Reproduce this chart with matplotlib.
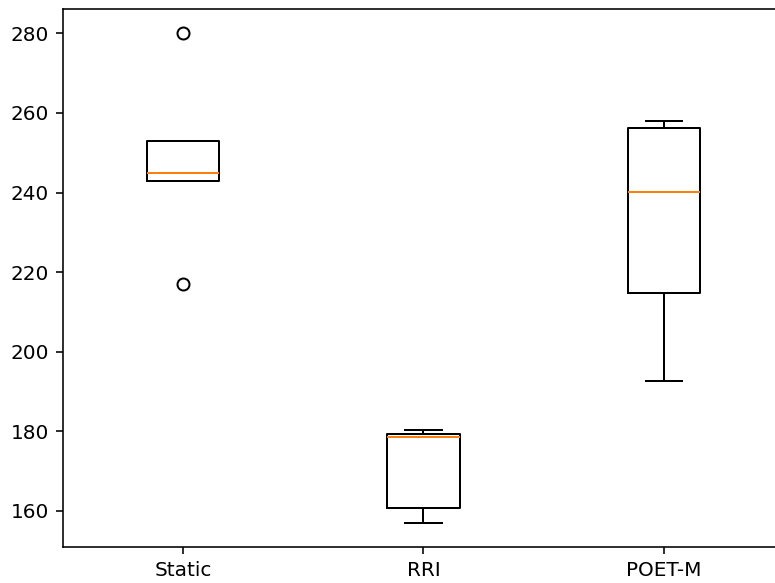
import matplotlib
matplotlib.use("Agg")
import matplotlib.pyplot as plt

# values (five runs per method)
labels = ["Static", "RRI", "POET-M"]
static = [217, 243, 245, 253, 280]
rri = [157, 160.6, 178.4, 179.3, 180.2]
poet_m = [192.5, 214.8, 240.2, 256.2, 258]

dpi = 144
W, H = 775, 583
fig = plt.figure(figsize=(W / dpi, H / dpi), dpi=dpi)
# right spine sits just past the image edge in the reference
ax = fig.add_axes([63 / W, 36 / H, 721 / W, 538 / H])
ax.boxplot([static, rri, poet_m])
ax.set_xticks([1, 2, 3], labels)
ax.spines["right"].set_visible(False)

fig.savefig("out.png", dpi=dpi)
